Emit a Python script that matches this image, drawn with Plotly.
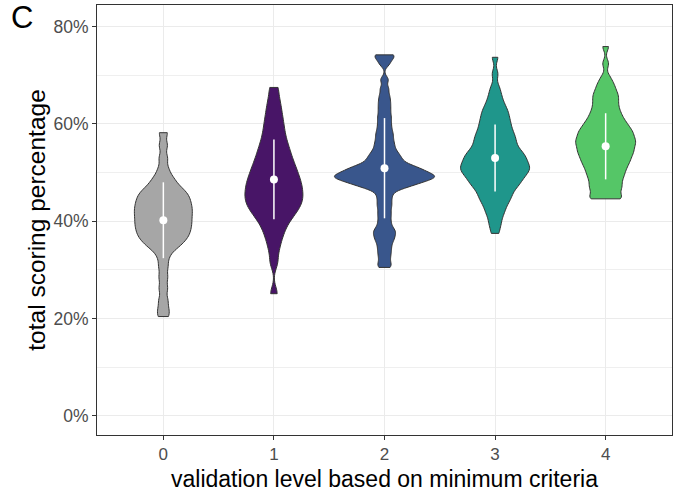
import plotly.graph_objects as go

# ---- data ----
CATEGORIES = ["0", "1", "2", "3", "4"]

SCORES_0 = [20.4, 21.9, 23.8, 26.2, 28.5, 30.7, 32.6, 34, 34.7, 35.2, 35.7, 36.2, 36.5, 36.9, 37.3, 37.6, 38, 38.3,
            38.7, 39, 39.3, 39.7, 40, 40.3, 40.7, 41, 41.3, 41.7, 42, 42.3, 42.6, 43, 43.3, 43.6, 44, 44.3, 44.7, 45,
            45.4, 45.8, 46.1, 46.6, 47.1, 47.7, 48.5, 49.3, 50.8, 53, 55.6, 58.2]
SCORES_1 = [25.1, 31.5, 34.1, 35.9, 37.2, 38.3, 39.2, 40, 40.7, 41.2, 41.8, 42.2, 42.7, 43.1, 43.5, 43.9, 44.3, 44.7,
            45, 45.4, 45.8, 46.2, 46.6, 47, 47.4, 47.7, 48.2, 48.6, 49, 49.5, 49.9, 50.4, 50.9, 51.4, 51.9, 52.5,
            53.1, 53.7, 54.4, 55.1, 55.8, 56.7, 57.6, 58.6, 59.7, 60.8, 62.1, 63.5, 65.2, 67.5]
SCORES_2 = [30.5, 31.3, 32.4, 33.4, 34.3, 35.2, 36, 36.6, 37.2, 37.8, 38.2, 39, 39.9, 40.9, 41.8, 42.8, 43.6, 44.5,
            45.3, 46.1, 46.7, 47, 47.2, 47.4, 47.6, 47.8, 48, 48.2, 48.3, 48.4, 48.6, 48.7, 48.9, 49, 49.1, 49.2,
            49.2, 49.3, 49.4, 49.6, 49.7, 49.9, 50, 50.2, 50.3, 50.5, 50.6, 50.8, 51, 51.1, 51.3, 51.5, 51.8, 52.1,
            52.5, 52.8, 53.2, 53.5, 54, 54.4, 55, 55.6, 56.2, 56.9, 57.6, 58.3, 59.1, 60, 60.9, 61.8, 62.8, 63.8,
            64.8, 65.9, 67.3, 69.1, 72.3, 73.3, 74.1, 74.2]
SCORES_3 = [37.5, 39, 40, 41.1, 41.8, 42.5, 43.1, 43.7, 44.2, 44.6, 45, 45.4, 45.8, 46.2, 46.6, 46.9, 47.2, 47.5,
            47.7, 48, 48.3, 48.5, 48.8, 49, 49.2, 49.5, 49.7, 49.9, 50.1, 50.3, 50.5, 50.7, 50.9, 51, 51.2, 51.4,
            51.6, 51.8, 52, 52.2, 52.5, 52.7, 52.9, 53.1, 53.3, 53.5, 53.7, 54, 54.2, 54.5, 54.7, 55, 55.3, 55.6,
            56, 56.3, 56.6, 56.9, 57.2, 57.6, 57.9, 58.3, 58.6, 59, 59.5, 59.9, 60.3, 60.7, 61.2, 61.7, 62.2, 62.6,
            63.2, 63.8, 64.5, 65.4, 66.4, 67.7, 70.3, 73.7]
SCORES_4 = [44.6, 44.6, 44.7, 44.7, 45.3, 46.1, 46.5, 46.8, 47.1, 47.5, 47.9, 48.4, 48.7, 49.1, 49.4, 49.7, 50.1,
            50.4, 50.7, 51, 51.3, 51.6, 51.9, 52.1, 52.4, 52.6, 52.9, 53.1, 53.4, 53.6, 53.9, 54.1, 54.3, 54.5,
            54.7, 54.9, 55.2, 55.4, 55.6, 55.9, 56.1, 56.3, 56.4, 56.6, 56.8, 57, 57.3, 57.5, 57.8, 58, 58.2, 58.4,
            58.6, 58.8, 59.1, 59.4, 59.7, 59.9, 60.2, 60.5, 60.8, 61.2, 61.6, 61.9, 62.3, 62.8, 63.2, 63.7, 64.2,
            64.7, 65.2, 65.7, 66.1, 66.6, 67.3, 67.9, 68.6, 69.7, 72.4, 75.9]

MEAN_SCORE = [40.2, 48.6, 50.9, 53.0, 55.4]
SD_SCORE = [7.8, 8.2, 10.3, 6.9, 6.8]

Y_TICKS = [0, 20, 40, 60, 80]
Y_TICK_LABELS = ["0%", "20%", "40%", "60%", "80%"]
Y_MINOR = [10, 30, 50, 70]

# ---- styles ----
FILLS = ["#A6A6A6", "#481567", "#39568C", "#1F968B", "#55C667"]
BANDWIDTHS = [1.0, 1.4, 0.7, 1.0, 0.9]
VIOLIN_WIDTHS = [0.524, 0.524, 0.904, 0.624, 0.542]
FONT = "Liberation Sans, Arial, sans-serif"

all_scores = [SCORES_0, SCORES_1, SCORES_2, SCORES_3, SCORES_4]

fig = go.Figure()
for cat, vals, fill, bw, vw in zip(CATEGORIES, all_scores, FILLS, BANDWIDTHS, VIOLIN_WIDTHS):
    fig.add_trace(go.Violin(
        x=[cat] * len(vals), y=vals, name=cat,
        bandwidth=bw, spanmode="hard", scalegroup=cat, scalemode="width", width=vw,
        line=dict(color="#333333", width=1), fillcolor=fill,
        points=False, box_visible=False, meanline_visible=False, hoverinfo="y",
    ))

fig.add_trace(go.Scatter(
    x=CATEGORIES, y=MEAN_SCORE, mode="markers",
    marker=dict(color="white", size=8),
    error_y=dict(type="data", array=SD_SCORE, color="white", thickness=1.5, width=0),
    showlegend=False, hoverinfo="y",
))

fig.add_annotation(text="C", xref="paper", yref="paper", x=-0.153, y=1.017,
                   xanchor="left", yanchor="top", showarrow=False,
                   font=dict(family=FONT, size=31, color="black"))

fig.update_layout(
    width=673, height=499,
    margin=dict(l=97, r=1, t=5, b=64),
    paper_bgcolor="white", plot_bgcolor="white",
    showlegend=False, violinmode="overlay",
    font=dict(family=FONT, color="#4D4D4D"),
    xaxis=dict(
        type="category", categoryorder="array", categoryarray=CATEGORIES,
        range=[-0.6, 4.6], automargin=False,
        showgrid=True, gridcolor="#EBEBEB", gridwidth=1.2,
        showline=True, linecolor="#333333", linewidth=1, mirror=True,
        ticks="outside", ticklen=4, tickcolor="#333333", tickwidth=1,
        tickfont=dict(size=17, color="#4D4D4D"),
        title=dict(text="validation level based on minimum criteria",
                   font=dict(size=23, color="black"), standoff=7),
        zeroline=False,
    ),
    yaxis=dict(
        range=[-3.95, 84.45], automargin=False,
        tickvals=Y_TICKS, ticktext=Y_TICK_LABELS,
        showgrid=True, gridcolor="#EBEBEB", gridwidth=1.2,
        minor=dict(tickvals=Y_MINOR, showgrid=True, gridcolor="#EFEFEF", gridwidth=0.6, ticks=""),
        showline=True, linecolor="#333333", linewidth=1, mirror=True,
        ticks="outside", ticklen=4, tickcolor="#333333", tickwidth=1,
        tickfont=dict(size=17.5, color="#4D4D4D"),
        title=dict(text="total scoring percentage", font=dict(size=24.5, color="black"), standoff=0),
        zeroline=False,
    ),
)

fig.write_html("out.html", config={"displayModeBar": False},
               post_script="document.body.style.margin='0';document.body.style.overflow='hidden';")
